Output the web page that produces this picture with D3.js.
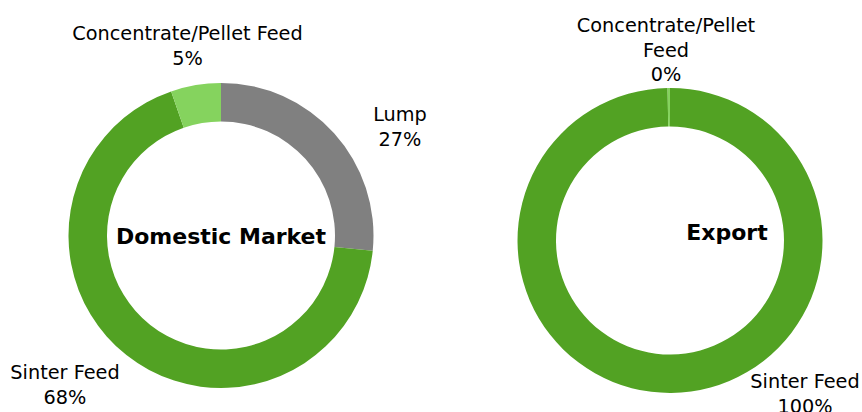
<!DOCTYPE html>
<html>
<head>
<meta charset="utf-8">
<script src="https://cdn.jsdelivr.net/npm/d3@7"></script>
<style>
  body { margin: 0; background: #fff; }
  text { font-family: "DejaVu Sans", sans-serif; fill: #000; }
</style>
</head>
<body>
<script>
// categories in drawing order (clockwise from 12 o'clock)
const categories = ["Lump", "Sinter Feed", "Concentrate/Pellet Feed"];
const colors = ["#808080", "#52a223", "#85d35e"];

// shares in %
const domesticValues = [26.6, 68.1, 5.3];
const exportValues = [0, 99.75, 0.25];

const chartTitles = ["Domestic Market", "Export"];

// label line breaks per chart
const domesticLabelLines = [["Lump"], ["Sinter Feed"], ["Concentrate/Pellet Feed"]];
const exportLabelLines = [[], ["Sinter Feed"], ["Concentrate/Pellet", "Feed"]];

const width = 862, height = 412;
const outerR = 152.5, innerR = 114;

const svg = d3.select("body")
  .append("svg")
  .attr("width", width)
  .attr("height", height);

const color = d3.scaleOrdinal().domain(categories).range(colors);

const pie = d3.pie()
  .sort(null)
  .value(d => d.value);

const arc = d3.arc()
  .innerRadius(innerR)
  .outerRadius(outerR);

// layout of each donut: centre, title spot, label spots (centre x, first baseline)
const layouts = [
  { cx: 221, cy: 235.5, titleX: 221, titleY: 244,
    labels: { "Lump": [400, 121], "Sinter Feed": [65, 379], "Concentrate/Pellet Feed": [187.5, 40] } },
  { cx: 670, cy: 240.5, titleX: 727, titleY: 240,
    labels: { "Sinter Feed": [805, 388], "Concentrate/Pellet Feed": [666, 32] } }
];

function drawDonut(values, lines, title, layout){
  let data = categories.map((c, i) => ({ name: c, value: values[i], lines: lines[i] }));

  let g = svg.append("g")
    .attr("transform", "translate(" + layout.cx + "," + layout.cy + ")");

  g.selectAll("path")
    .data(pie(data))
    .enter()
    .append("path")
    .attr("d", arc)
    .attr("fill", d => color(d.data.name));

  svg.append("text")
    .attr("x", layout.titleX)
    .attr("y", layout.titleY)
    .attr("text-anchor", "middle")
    .style("font-size", "22px")
    .style("font-weight", "bold")
    .text(title);

  data.forEach(d => {
    let pos = layout.labels[d.name];
    if(!pos) return;
    let t = svg.append("text")
      .attr("text-anchor", "middle")
      .style("font-size", "19.3px");
    let rows = d.lines.concat([Math.round(d.value) + "%"]);
    rows.forEach((r, i) => {
      t.append("tspan")
        .attr("x", pos[0])
        .attr("y", pos[1] + i * 24.5)
        .text(r);
    });
  });
}

drawDonut(domesticValues, domesticLabelLines, chartTitles[0], layouts[0]);
drawDonut(exportValues, exportLabelLines, chartTitles[1], layouts[1]);
</script>
</body>
</html>
